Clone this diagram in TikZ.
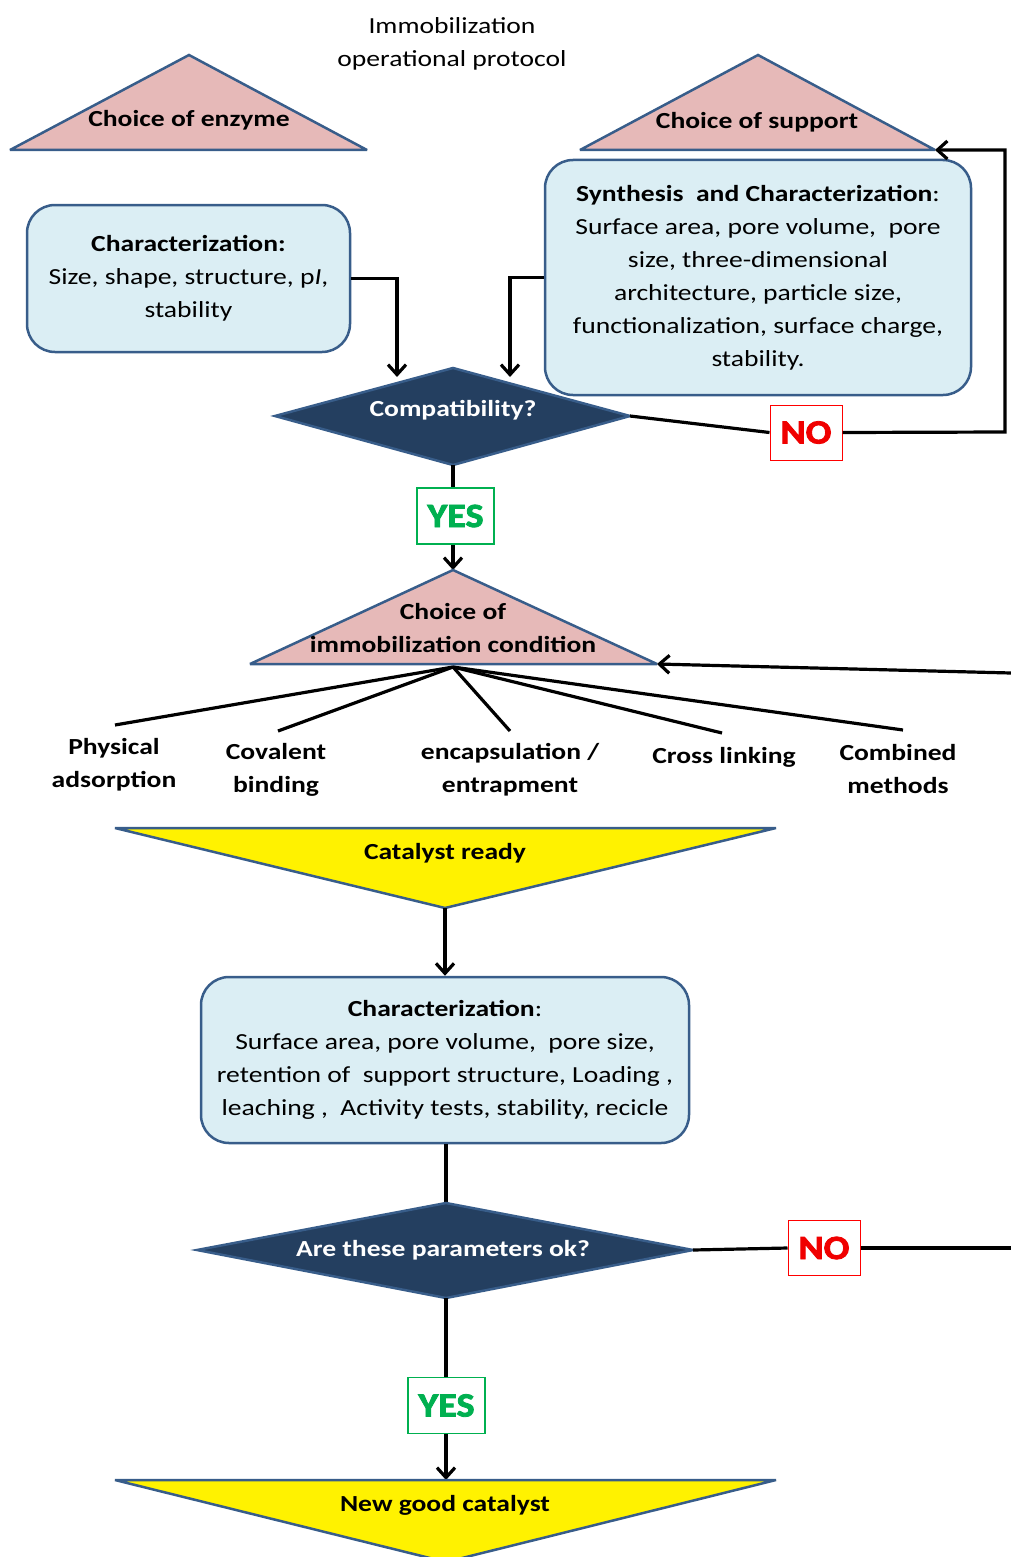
\documentclass[tikz,border=0pt]{standalone}
\usepackage{fontspec}
\setmainfont{Carlito}[FakeStretch=1.2]
\newfontfamily\signfont{Carlito}[FakeStretch=1.12, FakeBold=2.5]
\usetikzlibrary{arrows.meta, calc}
\definecolor{edgeblue}{HTML}{385D8A}
\definecolor{boxblue}{HTML}{DBEEF4}
\definecolor{rosefill}{HTML}{E6B9B8}
\definecolor{navy}{HTML}{243F60}
\definecolor{yesgreen}{HTML}{00B050}
\definecolor{nored}{HTML}{F00000}

\begin{document}
\begin{tikzpicture}[x=1pt, y=-1pt,
        every node/.style={font=\fontsize{23}{33}\selectfont, inner sep=0pt},
        tri/.style={draw=edgeblue, line width=2.5pt, fill=rosefill, miter limit=2},
        ytri/.style={draw=edgeblue, line width=2.5pt, fill=yellow, miter limit=2},
        dia/.style={draw=edgeblue, line width=2.5pt, fill=navy},
        infobox/.style={draw=edgeblue, line width=2.5pt, fill=boxblue, rounded corners=28pt, align=center},
        link/.style={line width=3.2pt},
        arr/.style={line width=3.2pt, -{Straight Barb[length=10pt, width=18pt]}},
        nobox/.style={draw=red, line width=1pt, fill=white, minimum width=72pt, minimum height=55pt,
            text=nored, font=\fontsize{34}{34}\signfont\bfseries},
        yesbox/.style={draw=yesgreen, line width=1.5pt, fill=white, minimum width=77pt, minimum height=56pt,
            text=yesgreen, font=\fontsize{34}{34}\signfont\bfseries},
        lab/.style={align=center, font=\fontsize{23}{33}\selectfont\bfseries}]
            \useasboundingbox (0,0) rectangle (1011,1557);

            \node[align=center] (title) at (452,43.5) {Immobilization\\operational protocol};

            \coordinate (enzA) at (189,55);
            \coordinate (enzL) at (10,150);
            \coordinate (enzR) at (367,150);
            \draw[tri] (enzA) -- (enzR) -- (enzL) -- cycle;
            \node[lab] (enz) at (189,120) {Choice of enzyme};

            \coordinate (supA) at (758,55);
            \coordinate (supL) at (580,150);
            \coordinate (supR) at (935,150);
            \draw[tri] (supA) -- (supR) -- (supL) -- cycle;
            \node[lab] (sup) at (757,122) {Choice of support};

            \node[infobox, minimum width=323pt, minimum height=147pt] (charE) at (188.5,278.5)
                {{\bfseries Characterization:}\\ Size, shape, structure, p\textit{I},\\ stability};
            \node[infobox, minimum width=426pt, minimum height=235pt] (charS) at (758,277.5)
                {{\bfseries Synthesis\ \ and Characterization}:\\ Surface area, pore volume,\ \ pore\\
                 size, three-dimensional\\ architecture, particle size,\\
                 functionalization, surface charge,\\ stability.};

            \coordinate (cmpN) at (453,368);
            \coordinate (cmpW) at (275,416);
            \coordinate (cmpS) at (453,465);
            \coordinate (cmpE) at (630,416);
            \draw[dia] (cmpN) -- (cmpE) -- (cmpS) -- (cmpW) -- cycle;
            \node[text=white, font=\fontsize{23}{33}\selectfont\bfseries] (cmp) at (453,410) {Compatibility?};
            \coordinate (cmpInL) at (397,377);
            \coordinate (cmpInR) at (510,377);
            \draw[arr] (charE.east) -| (cmpInL);
            \draw[arr] (charS.west) -| (cmpInR);

            \node[nobox] (no1) at (806,432.5) {NO};
            \coordinate (loopA) at (1005,432);
            \draw[link] (cmpE) -- (no1.west);
            \draw[arr] (no1.east) -- (loopA) |- (supR);

            \node[yesbox] (yes1) at (455.5,516) {YES};
            \coordinate (condA) at (453,570);
            \coordinate (condL) at (250,664);
            \coordinate (condR) at (657,664);
            \coordinate (condB) at (453,667);
            \coordinate (inR) at (1011,673);
            \draw[link] (cmpS) -- (yes1.north -| cmpS);
            \draw[arr] (yes1.south -| cmpS) -- (condA);

            \coordinate (physT) at (115,725);
            \coordinate (covT) at (278,731);
            \coordinate (encT) at (510,731);
            \coordinate (crossT) at (722,733);
            \coordinate (combT) at (903,730);
            \foreach \t in {physT, covT, encT, crossT, combT} {
                \draw[link] (condB) -- (\t);
            }
            \draw[tri] (condA) -- (condR) -- (condL) -- cycle;
            \node[lab] (cond) at (453,628.5) {Choice of\\immobilization condition};
            \draw[arr] (inR) -- (condR);

            \node[lab] (phys) at (114,764.5) {Physical\\adsorption};
            \node[lab] (cov) at (276,769.5) {Covalent\\binding};
            \node[lab] (enc) at (510,769.5) {encapsulation /\\entrapment};
            \node[lab] (cross) at (724,757) {Cross linking};
            \node[lab] (comb) at (898,769.5) {Combined\\methods};

            \coordinate (rdyL) at (115,828);
            \coordinate (rdyR) at (776,828);
            \coordinate (rdyB) at (445,908);
            \draw[ytri] (rdyL) -- (rdyR) -- (rdyB) -- cycle;
            \node[lab] (rdy) at (445,853) {Catalyst ready};

            \node[infobox, minimum width=488pt, minimum height=166pt] (charC) at (445,1060)
                {{\bfseries Characterization}:\\ Surface area, pore volume,\ \ pore size,\\
                 retention of\ \ support structure, Loading ,\\
                 leaching ,\ \ Activity tests, stability, recicle};
            \draw[arr] (rdyB) -- (charC.north -| rdyB);

            \coordinate (okN) at (446,1203);
            \coordinate (okW) at (197,1250);
            \coordinate (okS) at (446,1298);
            \coordinate (okE) at (693,1250);
            \draw[link] (charC.south -| okN) -- (okN);
            \draw[dia] (okN) -- (okE) -- (okS) -- (okW) -- cycle;
            \node[text=white, font=\fontsize{23}{33}\selectfont\bfseries] (ok) at (443,1250) {Are these parameters ok?};

            \node[nobox] (no2) at (824,1248) {NO};
            \coordinate (outR) at (1011,1248);
            \draw[link] (okE) -- (no2.west);
            \draw[link] (no2.east) -- (outR);

            \node[yesbox] (yes2) at (446.5,1405.5) {YES};
            \draw[link] (okS) -- (yes2.north -| okS);

            \coordinate (goodL) at (115,1480);
            \coordinate (goodR) at (776,1480);
            \coordinate (goodB) at (446,1562);
            \draw[arr] (yes2.south -| okS) -- (goodB |- goodL);
            \draw[ytri] (goodL) -- (goodR) -- (goodB) -- cycle;
            \node[lab] (good) at (445,1505) {New good catalyst};
        \end{tikzpicture}
\end{document}
